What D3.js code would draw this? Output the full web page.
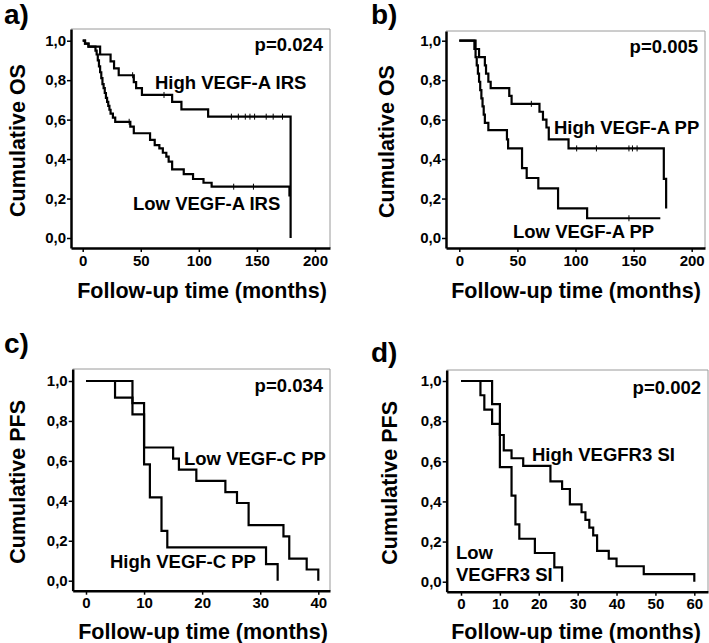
<!DOCTYPE html>
<html>
<head>
<meta charset="utf-8">
<script src="https://cdn.jsdelivr.net/npm/d3@7"></script>
<style>
body { margin: 0; background: #fff; }
svg { display: block; font-family: "Liberation Sans", Arial, sans-serif; font-weight: bold; }
</style>
</head>
<body>
<div id="chart"></div>
<script>
// a) OS by VEGF-A IRS
var aHighT = [0, 2, 5, 15, 24, 27, 31, 44, 46, 51, 77, 85, 108, 179];
var aHighS = [1, 0.985, 0.97, 0.93, 0.895, 0.86, 0.825, 0.79, 0.76, 0.725, 0.69, 0.652, 0.615, 0];
var aHighCens = [43, 70, 128, 134, 140, 144, 148, 158, 164, 172];
var aLowT = [0, 2, 5, 11, 12, 13, 14, 15, 16, 17, 18, 19, 20, 21, 22, 23, 24, 26, 28, 41, 44, 58, 62, 66, 69, 72, 74, 77, 87, 95, 104, 111, 178];
var aLowS = [1, 0.985, 0.97, 0.95, 0.93, 0.9, 0.87, 0.84, 0.81, 0.78, 0.76, 0.735, 0.71, 0.69, 0.67, 0.65, 0.63, 0.61, 0.589, 0.564, 0.531, 0.497, 0.471, 0.454, 0.432, 0.412, 0.387, 0.348, 0.324, 0.299, 0.28, 0.26, 0.21];
var aLowCens = [40, 130, 147];

// b) OS by VEGF-A PP
var bHighT = [0, 14, 17, 22, 23, 25, 27, 43, 45, 69, 72, 75, 77, 94, 176, 178];
var bHighS = [1, 0.958, 0.917, 0.875, 0.833, 0.792, 0.76, 0.72, 0.68, 0.64, 0.6, 0.56, 0.5, 0.454, 0.3, 0.15];
var bHighCens = [62, 101, 118, 146, 149, 153];
var bLowT = [0, 13, 14, 15, 16, 17, 18, 19, 20, 21, 22, 25, 41, 42, 54, 58, 68, 85, 110, 173];
var bLowS = [1, 0.958, 0.917, 0.875, 0.833, 0.792, 0.75, 0.708, 0.667, 0.625, 0.583, 0.547, 0.5, 0.454, 0.354, 0.304, 0.252, 0.15, 0.1, 0.1];
var bLowCens = [146];

// c) PFS by VEGF-C PP
var cLowT = [0, 8, 10, 15, 16, 19, 24, 26, 28, 34, 35, 38, 40];
var cLowS = [1, 0.889, 0.667, 0.611, 0.556, 0.5, 0.444, 0.389, 0.278, 0.222, 0.111, 0.056, 0];
var cHighT = [0, 5, 8, 10, 11, 13, 14, 31, 33];
var cHighS = [1, 0.917, 0.833, 0.583, 0.417, 0.25, 0.167, 0.083, 0];

// d) PFS by VEGFR3 SI
var dHighT = [0, 8, 10, 11, 13, 16, 23, 26, 28, 31, 32, 33, 34, 35, 38, 40, 47, 60];
var dHighS = [1, 0.885, 0.731, 0.654, 0.615, 0.577, 0.5, 0.462, 0.385, 0.346, 0.308, 0.269, 0.231, 0.154, 0.115, 0.077, 0.038, 0];
var dLowT = [0, 5, 6, 8, 10, 13, 14, 15, 19, 24, 26];
var dLowS = [1, 0.929, 0.857, 0.786, 0.571, 0.429, 0.286, 0.214, 0.143, 0.071, 0];

var yTicks = [0, 0.2, 0.4, 0.6, 0.8, 1.0];
var xTicksOS = [0, 50, 100, 150, 200];
var xTicksC = [0, 10, 20, 30, 40];
var xTicksD = [0, 10, 20, 30, 40, 50, 60];
var letters = ["a)", "b)", "c)", "d)"];
var yTitles = ["Cumulative OS", "Cumulative OS", "Cumulative PFS", "Cumulative PFS"];
var xTitle = "Follow-up time (months)";
var pValues = ["p=0.024", "p=0.005", "p=0.034", "p=0.002"];

var svg = d3.select("#chart").append("svg").attr("width", 709).attr("height", 643);

function zip(t, s) {
    return t.map(function (d, i) { return [d, s[i]]; });
}

function survAt(t, s, time) {
    var v = s[0];
    for (var i = 0; i < t.length; i++) { if (t[i] <= time) v = s[i]; }
    return v;
}

function makePanel(p) {
    var g = svg.append("g");

    // scales built from the tick anchor pixels, then stretched to the box edges
    var x = d3.scaleLinear().domain([0, p.xMax]).range([p.x0, p.x1]);
    x.domain([x.invert(p.box.l), x.invert(p.box.r)]).range([p.box.l, p.box.r]);
    var y = d3.scaleLinear().domain([0, 1]).range([p.y0, p.y1]);
    y.domain([y.invert(p.box.b), y.invert(p.box.t)]).range([p.box.b, p.box.t]);

    // thin grey frame top / right
    g.append("path")
        .attr("d", "M" + p.box.l + "," + p.box.t + "H" + p.box.r + "V" + p.box.b)
        .attr("fill", "none")
        .attr("stroke", "#9a9a9a")
        .attr("stroke-width", 1);

    var yAxis = d3.axisLeft(y).tickValues(yTicks).tickSize(4).tickSizeOuter(0).tickPadding(1)
        .tickFormat(function (d) { return d3.format(".1f")(d).replace(".", ","); });
    var xAxis = d3.axisBottom(x).tickValues(p.xTicks).tickSize(4).tickSizeOuter(0).tickPadding(3);

    var ga = g.append("g").attr("transform", "translate(" + p.box.l + ",0)").call(yAxis);
    var gx = g.append("g").attr("transform", "translate(0," + p.box.b + ")").call(xAxis);
    [ga, gx].forEach(function (a) {
        a.select(".domain").attr("stroke", "#000").attr("stroke-width", 2.5);
        a.selectAll(".tick line").attr("stroke", "#000").attr("stroke-width", 1.5);
        a.selectAll(".tick text")
            .attr("fill", "#000")
            .style("font-size", "15px")
            .style("font-weight", "bold")
            .style("font-family", "'Liberation Sans', Arial, sans-serif");
    });

    var line = d3.line()
        .curve(d3.curveStepAfter)
        .x(function (d) { return x(d[0]); })
        .y(function (d) { return y(d[1]); });

    p.curves.forEach(function (c) {
        g.append("path")
            .attr("d", line(zip(c.t, c.s)))
            .attr("fill", "none")
            .attr("stroke", "#000")
            .attr("stroke-width", 2.2);
        (c.cens || []).forEach(function (ct) {
            var cy = y(survAt(c.t, c.s, ct));
            g.append("line")
                .attr("x1", x(ct)).attr("x2", x(ct))
                .attr("y1", cy - 3).attr("y2", cy + 3)
                .attr("stroke", "#000")
                .attr("stroke-width", 1);
        });
    });

    p.labels.forEach(function (l) {
        g.append("text")
            .attr("x", l.x).attr("y", l.y)
            .attr("text-anchor", l.anchor || "start")
            .style("font-size", "18.5px")
            .text(l.text);
    });

    g.append("text")
        .attr("x", p.box.r - 7).attr("y", p.pY)
        .attr("text-anchor", "end")
        .style("font-size", "18.5px")
        .text(p.pText);

    g.append("text")
        .attr("transform", "translate(" + p.yTitleX + "," + ((p.box.t + p.box.b) / 2 + 2) + ") rotate(-90)")
        .attr("text-anchor", "middle")
        .attr("dy", "0.35em")
        .style("font-size", "21.5px")
        .text(p.yTitle);

    g.append("text")
        .attr("x", p.xTitleX).attr("y", p.xTitleY)
        .attr("text-anchor", "middle")
        .style("font-size", "21.5px")
        .text(xTitle);

    g.append("text")
        .attr("x", p.letterX).attr("y", p.letterY)
        .style("font-size", "28px")
        .text(p.letter);
}

makePanel({
    box: { l: 71, t: 29, r: 330, b: 248 },
    x0: 82.7, x1: 315, xMax: 200, y0: 238, y1: 40.7,
    xTicks: xTicksOS,
    curves: [{ t: aHighT, s: aHighS, cens: aHighCens }, { t: aLowT, s: aLowS, cens: aLowCens }],
    labels: [{ text: "High VEGF-A IRS", x: 155, y: 89 }, { text: "Low VEGF-A IRS", x: 133, y: 210 }],
    pText: pValues[0], pY: 51,
    yTitle: yTitles[0], yTitleX: 17,
    xTitleX: 202, xTitleY: 298,
    letter: letters[0], letterX: 4, letterY: 24
});

makePanel({
    box: { l: 446, t: 31, r: 705, b: 248 },
    x0: 459.3, x1: 691.7, xMax: 200, y0: 238, y1: 40.7,
    xTicks: xTicksOS,
    curves: [{ t: bHighT, s: bHighS, cens: bHighCens }, { t: bLowT, s: bLowS, cens: bLowCens }],
    labels: [{ text: "High VEGF-A PP", x: 554, y: 134 }, { text: "Low VEGF-A PP", x: 513, y: 238 }],
    pText: pValues[1], pY: 53,
    yTitle: yTitles[1], yTitleX: 386,
    xTitleX: 576, xTitleY: 298,
    letter: letters[1], letterX: 371, letterY: 24
});

makePanel({
    box: { l: 72.7, t: 369, r: 330, b: 590.7 },
    x0: 86, x1: 318.3, xMax: 40, y0: 580.7, y1: 381,
    xTicks: xTicksC,
    curves: [{ t: cLowT, s: cLowS }, { t: cHighT, s: cHighS }],
    labels: [{ text: "Low VEGF-C PP", x: 184, y: 465 }, { text: "High VEGF-C PP", x: 110, y: 568 }],
    pText: pValues[2], pY: 392,
    yTitle: yTitles[2], yTitleX: 17,
    xTitleX: 203, xTitleY: 639,
    letter: letters[2], letterX: 4, letterY: 353
});

makePanel({
    box: { l: 446.7, t: 370, r: 708, b: 591.7 },
    x0: 461, x1: 694.3, xMax: 60, y0: 581.7, y1: 381,
    xTicks: xTicksD,
    curves: [{ t: dHighT, s: dHighS }, { t: dLowT, s: dLowS }],
    labels: [{ text: "High VEGFR3 SI", x: 532, y: 461 }, { text: "Low", x: 456, y: 559 }, { text: "VEGFR3 SI", x: 456, y: 581 }],
    pText: pValues[3], pY: 394,
    yTitle: yTitles[3], yTitleX: 389,
    xTitleX: 576, xTitleY: 639,
    letter: letters[3], letterX: 371, letterY: 362
});
</script>
</body>
</html>
